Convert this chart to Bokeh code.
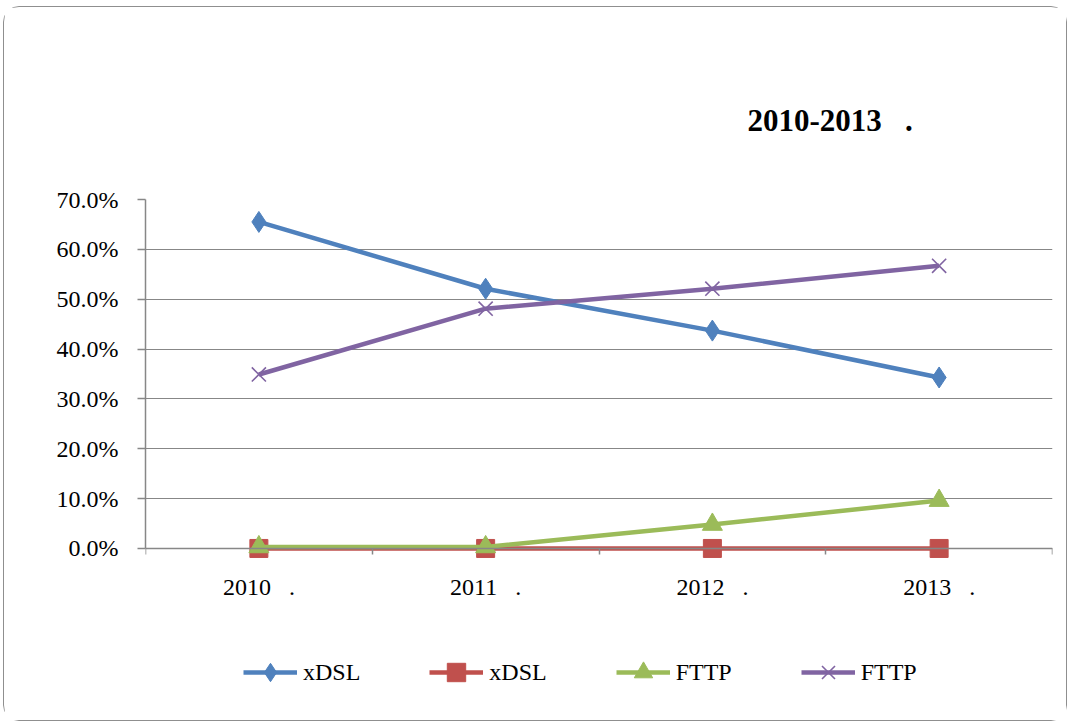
from bokeh.plotting import figure
from bokeh.models import FixedTicker, NumeralTickFormatter, Legend, LegendItem
from bokeh.core.properties import value
from bokeh.embed import file_html
from bokeh.resources import INLINE

# ---- data ----
years = ["2010\u00a0\u00a0 .", "2011\u00a0\u00a0 .", "2012\u00a0\u00a0 .", "2013\u00a0\u00a0 ."]
xdsl_a = [0.655, 0.521, 0.437, 0.343]
xdsl_b = [0.0, 0.0, 0.0, 0.0]
fttp_a = [0.003, 0.003, 0.048, 0.096]
fttp_b = [0.349, 0.481, 0.521, 0.567]
series_labels = ["xDSL", "xDSL", "FTTP", "FTTP"]
y_ticks = [0.0, 0.1, 0.2, 0.3, 0.4, 0.5, 0.6, 0.7]
title_text = "2010-2013\u00a0\u00a0 ."

xs = [i + 0.5 for i in range(len(years))]

FONT = "Liberation Serif"
GRID = "#878787"

# frame extends below the data area so the legend can sit inside it
p = figure(frame_width=907, frame_height=503, output_backend="svg", toolbar_location=None,
           x_range=(0, len(years)), y_range=(-0.309, 0.70),
           min_border_left=141, min_border_right=14, min_border_top=192,
           min_border_bottom=18, outline_line_color=None)
p.styles = {"border": "1.5px solid #8f8f8f", "border-radius": "16px",
            "margin-left": "3px", "margin-top": "6px"}

# title
p.title.text = title_text
p.title.text_font = FONT
p.title.text_font_size = "31px"
p.title.text_font_style = "bold"
p.title.text_color = "black"
p.title.align = "left"
p.title.offset = 602
p.title.standoff = 123

# x axis drawn at y = 0, tick marks between categories only
p.xaxis.fixed_location = 0
p.xaxis.ticker = FixedTicker(ticks=[], minor_ticks=list(range(len(years) + 1)))
p.xaxis.major_tick_line_color = None
p.xaxis.minor_tick_out = 6
p.xaxis.minor_tick_in = 0
p.xaxis.minor_tick_line_color = GRID
p.xaxis.minor_tick_line_width = 1.5
p.xaxis.axis_line_color = GRID
p.xaxis.axis_line_width = 1.5

# category labels under the axis
p.text(x=xs, y=[0] * len(xs), text=years, text_align="center", text_baseline="top",
       y_offset=26, text_font=value(FONT), text_font_size="24px", text_color="black")

# y axis
p.yaxis.ticker = FixedTicker(ticks=y_ticks)
p.yaxis.bounds = (0, 0.70)
p.yaxis.formatter = NumeralTickFormatter(format="0.0%")
p.yaxis.major_tick_out = 8
p.yaxis.major_tick_in = 0
p.yaxis.minor_tick_line_color = None
p.yaxis.major_tick_line_color = GRID
p.yaxis.major_tick_line_width = 1.5
p.yaxis.axis_line_color = GRID
p.yaxis.axis_line_width = 1.5
p.yaxis.major_label_text_font = FONT
p.yaxis.major_label_text_font_size = "24px"
p.yaxis.major_label_text_color = "black"
p.yaxis.major_label_standoff = 19

p.xgrid.grid_line_color = None
p.ygrid.grid_line_color = GRID
p.ygrid.grid_line_width = 1.2

colors = ["#4F81BD", "#C0504D", "#9BBB59", "#8064A2"]
markers = ["diamond", "square", "triangle", "x"]
sizes = [21, 18, 20, 20]
data = [xdsl_a, xdsl_b, fttp_a, fttp_b]

items = []
for vals, col, lab, mkr, sz in zip(data, colors, series_labels, markers, sizes):
    ln = p.line(xs, vals, line_color=col, line_width=4.5)
    if mkr == "x":
        mk = p.scatter(xs, vals, marker=mkr, size=sz, line_color=col, line_width=1.6)
    else:
        mk = p.scatter(xs, vals, marker=mkr, size=sz, fill_color=col, line_color=col)
    items.append(LegendItem(label=lab, renderers=[ln, mk]))

legend = Legend(items=items, orientation="horizontal", location=(98, 7),
                glyph_width=54, glyph_height=46, label_standoff=6, spacing=69,
                padding=0, margin=0, border_line_color=None,
                background_fill_alpha=0, label_text_font=FONT,
                label_text_font_size="24px", label_text_color="black")
p.add_layout(legend, "center")

open("out.html", "w").write(file_html(p, INLINE))
